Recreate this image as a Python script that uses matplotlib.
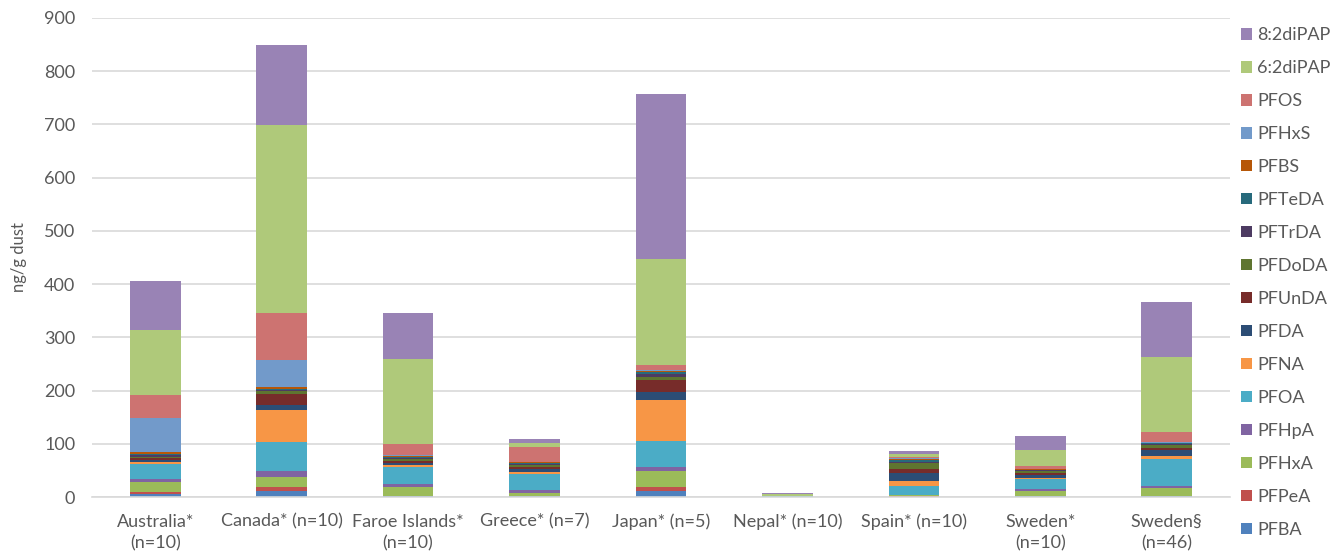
import matplotlib
matplotlib.use("Agg")
import matplotlib.pyplot as plt
import numpy as np

plt.rcParams['font.family'] = ['Lato', 'DejaVu Sans']

countries = ["Australia*\n(n=10)", "Canada* (n=10)", "Faroe Islands*\n(n=10)",
             "Greece* (n=7)", "Japan* (n=5)", "Nepal* (n=10)", "Spain* (n=10)",
             "Sweden*\n(n=10)", "Sweden§\n(n=46)"]

compounds = ["PFBA", "PFPeA", "PFHxA", "PFHpA", "PFOA", "PFNA", "PFDA", "PFUnDA",
             "PFDoDA", "PFTrDA", "PFTeDA", "PFBS", "PFHxS", "PFOS",
             "6:2diPAP", "8:2diPAP"]

# concentrations (ng/g dust), one list per country, in compound order
australia = [6, 4, 18, 6, 28, 4, 4, 3, 3, 2, 3, 3, 65, 42, 123, 92]
canada = [11, 8, 18, 12, 55, 59, 9, 21, 6, 2, 2, 4, 50, 89, 353, 150]
faroe = [1, 1, 16, 6, 33, 3, 4, 4, 4, 2, 2, 1, 1, 22, 160, 85]
greece = [1, 1.5, 5, 5, 30, 4, 6, 4, 4, 2, 2, 0.5, 0.5, 28.5, 7.5, 8]
japan = [11, 7, 31, 7, 49, 77, 15, 22, 6, 7, 3, 2, 2, 9, 199, 310]
nepal = [0.2, 0.1, 0.3, 0.1, 0.3, 0.1, 0.1, 0.1, 0.05, 0.05, 0.05, 0.05, 0.1, 0.3, 3.5, 2.5]
spain = [0.5, 0.5, 2, 1.5, 16.5, 8.5, 16.5, 6, 12.5, 2, 2.5, 3, 1, 1.5, 6.5, 6]
sweden_a = [1, 0.5, 9.5, 4, 19, 1.5, 6.5, 3, 4, 1.5, 1, 0.5, 0.6, 5.4, 30, 27]
sweden_b = [1, 1, 14, 4, 52, 4.5, 12.5, 2.5, 5.5, 2.5, 1.5, 1, 1, 20, 140, 104]

colors = ["#4F81BD", "#C0504D", "#9BBB59", "#8064A2", "#4BACC6", "#F79646",
          "#2C4D75", "#772C2A", "#5F7530", "#4D3B62", "#276A7C", "#B65708",
          "#729ACA", "#CD7371", "#AFC97A", "#9983B5"]

data = np.array([australia, canada, faroe, greece, japan, nepal, spain,
                 sweden_a, sweden_b]).T

fig = plt.figure(figsize=(13.38, 5.55), dpi=100)
ax = fig.add_axes([92 / 1338, 58 / 555, 1138 / 1338, 479 / 555])

x = np.arange(len(countries))
bottom = np.zeros(len(countries))
handles = []
for name, vals, col in zip(compounds, data, colors):
    h = ax.bar(x, vals, width=0.40, bottom=bottom, color=col, label=name,
               linewidth=0)
    handles.append(h)
    bottom += vals

ax.set_xlim(-0.5, len(countries) - 0.5)
ax.set_ylim(0, 900)
ax.set_yticks(np.arange(0, 901, 100))
ax.yaxis.grid(True, color="#D9D9D9", linewidth=1.2)
ax.set_axisbelow(True)
for s in ["top", "right", "left"]:
    ax.spines[s].set_visible(False)
ax.spines["bottom"].set_color("#D9D9D9")
ax.spines["bottom"].set_linewidth(1.2)
ax.tick_params(axis="both", length=0, labelsize=13, colors="#595959")
ax.tick_params(axis="y", pad=12)
ax.tick_params(axis="x", pad=12)
ax.set_xticks(x)
ax.set_xticklabels(countries, linespacing=1.45)
ax.set_ylabel("ng/g dust", fontsize=12, color="#595959", labelpad=12)

leg = fig.legend(handles[::-1], compounds[::-1], loc="upper left",
                 bbox_to_anchor=(1234 / 1338, 1 - 20 / 555), frameon=False,
                 fontsize=13, handlelength=0.6, handleheight=0.6,
                 handletextpad=0.3, labelspacing=0.94, borderaxespad=0)
for t in leg.get_texts():
    t.set_color("#595959")

fig.savefig("out.png", dpi=100)
